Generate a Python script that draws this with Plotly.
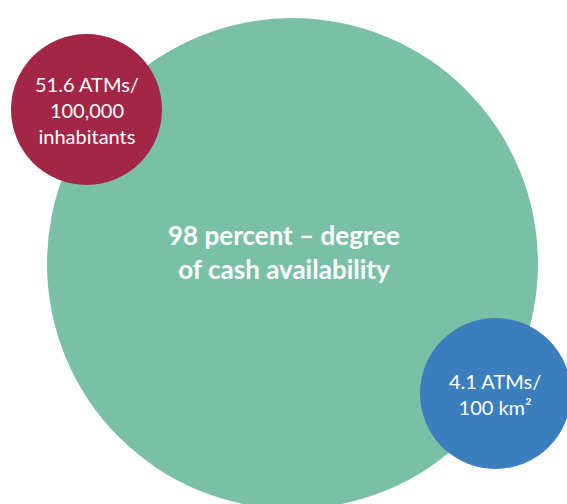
import plotly.graph_objects as go

# Data
labels = ["degree of cash availability", "ATMs per 100,000 inhabitants", "ATMs per 100 km²"]
values = [98, 51.6, 4.1]
texts = [
    f"{values[0]} percent – degree<br>of cash availability",
    f"{values[1]} ATMs/<br>100,000<br>inhabitants",
    f"{values[2]} ATMs/<br>100 km²",
]
colors = ["#7ac0a7", "#a32646", "#3a7ebe"]

# Layout geometry (pixel-based data coordinates)
centers_x = [292.5, 86.5, 495.5]
centers_y = [263.5, 109.5, 393.5]
radii = [245.5, 75.5, 75.5]
text_x = [283.5, 87, 495]
text_y = [252, 110, 394]
font_sizes = [26, 20, 20]
bold = [True, False, False]

fig = go.Figure()
fig.add_trace(go.Scatter(x=[0, 567], y=[0, 504], mode="markers",
                         marker=dict(opacity=0), hoverinfo="skip", showlegend=False))

shapes = []
annotations = []
for i in range(3):
    shapes.append(dict(type="circle", xref="x", yref="y",
                       x0=centers_x[i] - radii[i], x1=centers_x[i] + radii[i],
                       y0=centers_y[i] - radii[i], y1=centers_y[i] + radii[i],
                       fillcolor=colors[i], line=dict(width=0), layer="above"))
    t = f"<b>{texts[i]}</b>" if bold[i] else texts[i]
    annotations.append(dict(x=text_x[i], y=text_y[i], xref="x", yref="y",
                            text=t, showarrow=False, xanchor="center", yanchor="middle",
                            align="center",
                            font=dict(family="Lato", size=font_sizes[i], color="white")))

fig.update_layout(
    width=567, height=504,
    margin=dict(l=0, r=0, t=0, b=0),
    paper_bgcolor="white", plot_bgcolor="white",
    xaxis=dict(range=[0, 567], visible=False, fixedrange=True),
    yaxis=dict(range=[504, 0], visible=False, fixedrange=True),
    shapes=shapes, annotations=annotations,
)
fig.write_html("out.html")
